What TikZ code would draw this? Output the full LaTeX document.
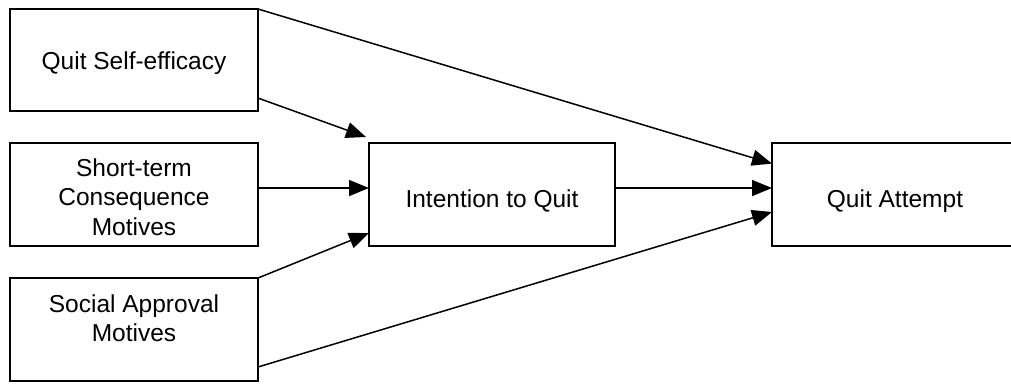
\documentclass[tikz,border=0pt]{standalone}
\usepackage{fontspec}
\setmainfont{Liberation Sans}
\usetikzlibrary{arrows.meta,calc}
\begin{document}
\begin{tikzpicture}[x=1pt,y=-1pt,
  box/.style={draw=black,line width=1.5pt,minimum width=248pt,minimum height=103pt,inner sep=0pt,outer sep=0pt},
  lbl/.style={font=\fontsize{24.5}{29.5}\selectfont,align=center,inner sep=0pt},
  conn/.style={line width=1.5pt,-{Triangle[length=20pt,width=16pt]}}]
\useasboundingbox (0,0) rectangle (1011,384);
\begin{scope}
\clip (0,0) rectangle (1011,384);
\node[box,minimum height=102pt] (b1) at (134,60) {};
\node[box] (b2) at (134,194.5) {};
\node[box] (b3) at (134,329.5) {};
\node[box,minimum width=246pt] (int) at (492,194.5) {};
\node[box,minimum width=246pt] (qa) at (895,194.5) {};
\end{scope}
\node[lbl] (t1) at (134,63) {Quit Self-efficacy};
\node[lbl] (t2) at (134,197) {Short-term\\Consequence\\Motives};
\node[lbl] (t3) at (134,318) {Social Approval\\Motives};
\node[lbl] (t4) at (492,201) {Intention to Quit};
\node[lbl] (t5) at (895,201) {Quit Attempt};
\coordinate (s1) at ($(b1.north east)!0.873!(b1.south east)$);
\coordinate (e1) at ($(int.north west)+(-3,-6)$);
\coordinate (s2) at ($(b2.north east)!0.437!(b2.south east)$);
\coordinate (e2) at ($(int.north west)!0.437!(int.south west)$);
\coordinate (e3) at ($(int.north west)!0.874!(int.south west)$);
\coordinate (s4) at ($(int.north east)!0.437!(int.south east)$);
\coordinate (q1) at ($(qa.north west)!0.2!(qa.south west)$);
\coordinate (q2) at ($(qa.north west)!0.437!(qa.south west)$);
\coordinate (q3) at ($(qa.north west)!0.67!(qa.south west)$);
\coordinate (s5) at ($(b3.north east)!0.864!(b3.south east)$);
\draw[conn] (b1.north east) -- (q1);
\draw[conn] (s1) -- (e1);
\draw[conn] (s2) -- (e2);
\draw[conn] (b3.north east) -- (e3);
\draw[conn] (s4) -- (q2);
\draw[conn] (s5) -- (q3);
\end{tikzpicture}
\end{document}
